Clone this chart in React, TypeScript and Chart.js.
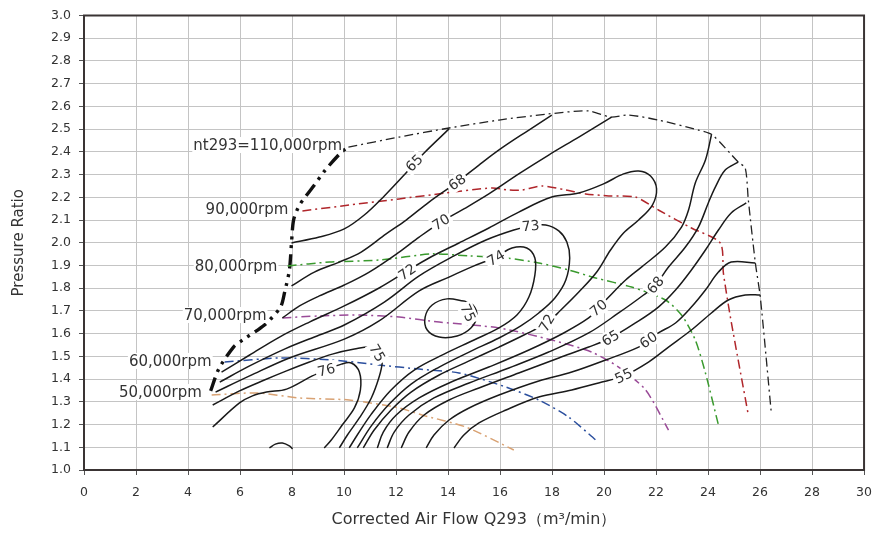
import { useEffect, useRef } from 'react';
import { Chart, registerables } from 'chart.js';

Chart.register(...registerables);

// ---- speed lines (corrected flow m3/min, pressure ratio) ----
const surgeLine = [[4.87,1.348],[5.18,1.444],[5.75,1.541],[6.10,1.572],[6.94,1.638],[7.56,1.717],[7.71,1.779],[7.90,1.880],[7.98,1.999],[8.06,2.100],[8.29,2.166],[8.86,2.254],[9.28,2.320],[9.90,2.399],[10.17,2.421]];
const rpm110k = [[10.17,2.421],[12.12,2.465],[14.04,2.505],[15.96,2.540],[17.87,2.567],[19.41,2.580],[20.25,2.553],[20.94,2.562],[22.09,2.540],[23.63,2.496],[24.17,2.474],[25.16,2.355],[25.43,2.329],[25.55,2.188],[25.82,1.911],[26.01,1.761],[26.43,1.255]];
const rpm90k = [[8.40,2.140],[10.20,2.166],[12.12,2.193],[13.92,2.219],[15.69,2.241],[16.34,2.232],[16.84,2.232],[17.61,2.250],[18.53,2.232],[19.29,2.215],[20.18,2.206],[21.21,2.201],[22.09,2.144],[23.36,2.065],[24.47,1.999],[24.59,1.867],[24.86,1.673],[25.55,1.242]];
const rpm80k = [[7.83,1.898],[9.44,1.915],[11.35,1.924],[13.39,1.951],[14.81,1.942],[16.23,1.933],[17.49,1.911],[18.64,1.880],[19.68,1.845],[21.06,1.805],[22.36,1.748],[22.98,1.682],[23.51,1.572],[23.90,1.427],[24.40,1.198]];
const rpm70k = [[7.63,1.669],[9.05,1.678],[10.59,1.682],[12.12,1.673],[13.66,1.651],[15.96,1.625],[17.99,1.572],[19.52,1.519],[20.56,1.453],[21.60,1.352],[22.48,1.176]];
const rpm60k = [[5.41,1.475],[7.52,1.493],[9.55,1.484],[11.35,1.462],[12.89,1.444],[14.42,1.427],[16.23,1.365],[17.49,1.308],[18.64,1.233],[19.68,1.132]];
const rpm50k = [[4.91,1.330],[6.64,1.339],[8.29,1.317],[10.20,1.308],[12.12,1.273],[13.00,1.242],[14.69,1.189],[16.53,1.088]];

// ---- efficiency contours ----
const eff65Upper = [[7.98,1.999],[9.05,2.025],[10.01,2.061],[10.78,2.122],[11.55,2.206],[12.31,2.298],[13.08,2.395],[14.04,2.501]];
const eff65Lower = [[25.47,2.175],[24.89,2.131],[24.40,2.056],[23.90,1.968],[23.36,1.880],[22.75,1.792],[22.09,1.717],[21.21,1.647],[20.25,1.581],[19.41,1.541],[18.26,1.493],[16.72,1.427],[15.19,1.361],[14.04,1.308],[13.08,1.242],[12.50,1.167],[12.20,1.097]];
const eff68Upper = [[7.98,1.810],[8.86,1.871],[9.82,1.915],[10.66,1.959],[11.62,2.039],[12.39,2.100],[13.27,2.179],[14.35,2.267],[15.19,2.342],[16.07,2.417],[17.11,2.496],[17.99,2.562]];
const eff68Lower = [[25.16,2.355],[24.66,2.320],[24.28,2.245],[24.01,2.175],[23.63,2.069],[23.13,1.981],[22.48,1.893],[21.98,1.814],[21.52,1.770],[20.56,1.691],[19.41,1.603],[17.87,1.519],[16.34,1.449],[14.81,1.383],[13.46,1.317],[12.50,1.242],[11.93,1.167],[11.66,1.097]];
const eff70Upper = [[7.63,1.669],[8.29,1.722],[9.05,1.766],[10.01,1.814],[10.97,1.871],[12.12,1.959],[12.89,2.025],[13.73,2.091],[14.61,2.149],[15.57,2.215],[16.72,2.303],[17.87,2.386],[19.03,2.465],[20.29,2.553]];
const eff70Lower = [[24.13,2.474],[23.90,2.364],[23.51,2.263],[23.25,2.144],[22.98,2.069],[22.36,1.981],[21.44,1.893],[20.83,1.836],[20.18,1.761],[19.79,1.713],[19.41,1.669],[18.45,1.603],[17.11,1.528],[15.57,1.453],[14.04,1.383],[12.89,1.317],[12.01,1.242],[11.51,1.167],[11.28,1.097]];
const eff72 = [[5.29,1.431],[6.37,1.506],[7.52,1.585],[8.67,1.651],[10.01,1.722],[11.35,1.801],[12.43,1.876],[13.27,1.933],[14.42,1.999],[15.57,2.065],[16.72,2.135],[17.99,2.201],[19.03,2.219],[19.98,2.259],[20.75,2.303],[21.33,2.316],[21.79,2.294],[22.02,2.237],[21.86,2.166],[21.33,2.100],[20.75,2.043],[20.25,1.968],[19.72,1.871],[19.03,1.783],[18.34,1.704],[17.80,1.647],[16.92,1.594],[15.96,1.541],[14.81,1.480],[13.66,1.418],[12.58,1.343],[11.81,1.264],[11.16,1.176],[10.74,1.097]];
const eff73 = [[5.22,1.387],[6.37,1.458],[7.71,1.532],[9.05,1.594],[10.01,1.638],[11.55,1.739],[12.89,1.854],[14.23,1.942],[15.46,2.012],[16.53,2.056],[17.18,2.074],[17.76,2.078],[18.26,2.052],[18.57,2.003],[18.68,1.933],[18.53,1.836],[18.11,1.757],[17.49,1.691],[16.80,1.634],[15.96,1.581],[14.81,1.519],[13.66,1.453],[12.58,1.378],[11.74,1.290],[11.05,1.194],[10.51,1.097]];
const eff74 = [[5.06,1.343],[6.37,1.414],[7.90,1.493],[10.01,1.576],[11.35,1.656],[12.89,1.788],[14.04,1.849],[15.00,1.898],[15.84,1.937],[16.46,1.977],[17.03,1.977],[17.34,1.933],[17.34,1.858],[17.11,1.761],[16.65,1.682],[15.96,1.625],[15.00,1.572],[13.85,1.510],[12.70,1.440],[11.81,1.352],[11.05,1.246],[10.51,1.154],[10.20,1.097]];
const eff75Island = [[14.61,1.744],[13.96,1.753],[13.39,1.726],[13.12,1.673],[13.20,1.616],[13.66,1.585],[14.35,1.590],[14.88,1.625],[15.11,1.678],[14.96,1.726],[14.61,1.744]];
const eff75 = [[4.95,1.286],[5.98,1.348],[6.94,1.396],[7.79,1.436],[8.67,1.475],[9.55,1.510],[10.40,1.532],[11.05,1.541],[11.39,1.519],[11.47,1.475],[11.35,1.409],[11.05,1.317],[10.59,1.229],[10.13,1.154],[9.82,1.097]];
const eff76 = [[4.95,1.189],[5.98,1.295],[6.48,1.326],[7.02,1.343],[7.79,1.356],[8.78,1.414],[9.32,1.440],[9.90,1.466],[10.28,1.471],[10.59,1.431],[10.63,1.352],[10.40,1.273],[9.93,1.198],[9.51,1.132],[9.24,1.097]];
const eff77 = [[7.13,1.097],[7.36,1.114],[7.63,1.119],[7.90,1.106],[8.02,1.093]];
const eff60 = [[25.82,1.911],[24.89,1.915],[24.40,1.871],[23.90,1.792],[23.36,1.717],[22.75,1.647],[22.09,1.603],[21.71,1.572],[21.33,1.541],[20.06,1.484],[18.76,1.431],[17.49,1.392],[15.96,1.330],[14.81,1.273],[14.04,1.220],[13.46,1.154],[13.16,1.097]];
const eff55 = [[26.01,1.770],[25.43,1.770],[24.78,1.748],[24.13,1.691],[23.36,1.616],[22.48,1.541],[21.71,1.475],[20.75,1.414],[19.79,1.383],[18.76,1.352],[17.49,1.321],[16.23,1.264],[15.19,1.207],[14.61,1.154],[14.23,1.097]];

// ---- labels ----
const contourLabelText = ['65','68','70','72','73','74','75','75','76','72','70','68','65','60','55'];
const contourLabelAt = [[12.70,2.351],[14.35,2.267],[13.73,2.091],[12.43,1.871],[17.18,2.074],[15.84,1.933],[14.77,1.691],[11.28,1.515],[9.32,1.440],[17.80,1.647],[19.79,1.713],[21.98,1.814],[20.25,1.581],[21.71,1.572],[20.75,1.414]];
const contourLabelAngle = [-45,-35,-32,-35,-5,-30,65,60,-15,-60,-40,-50,-32,-35,-25];
const speedLabelText = ['nt293=110,000rpm','90,000rpm','80,000rpm','70,000rpm','60,000rpm','50,000rpm'];
const speedLabelAt = [[9.93,2.430],[7.86,2.148],[7.44,1.898],[7.02,1.682],[4.91,1.480],[4.53,1.343]];

const FONT = '"DejaVu Sans", Verdana, sans-serif';

export default function App() {
  const ref = useRef<HTMLCanvasElement>(null);

  useEffect(() => {
    if (!ref.current) return;
    const pts = (a: number[][]) => a.map(([x, y]) => ({ x, y }));
    const eff = (a: number[][]) => ({
      data: pts(a), borderColor: '#1a1a1a', borderWidth: 1.5, pointRadius: 0,
      tension: 0.35, fill: false,
    });
    const speed = (a: number[][], color: string, width: number, dash: number[]) => ({
      data: pts(a), borderColor: color, borderWidth: width, borderDash: dash, pointRadius: 0,
      tension: 0.25, fill: false,
    });

    const labelPlugin = {
      id: 'mapLabels',
      afterDatasetsDraw(chart: any) {
        const { ctx, scales } = chart;
        const sx = scales.x, sy = scales.y;
        ctx.save();
        ctx.font = `14px ${FONT}`;
        ctx.textBaseline = 'middle';
        ctx.textAlign = 'center';
        contourLabelText.forEach((t, i) => {
          const px = sx.getPixelForValue(contourLabelAt[i][0]);
          const py = sy.getPixelForValue(contourLabelAt[i][1]);
          ctx.save();
          ctx.translate(px, py);
          ctx.rotate((contourLabelAngle[i] * Math.PI) / 180);
          const w = ctx.measureText(t).width;
          ctx.fillStyle = '#ffffff';
          ctx.fillRect(-w / 2 - 2, -8, w + 4, 16);
          ctx.fillStyle = '#333333';
          ctx.fillText(t, 0, 1);
          ctx.restore();
        });
        ctx.font = `15px ${FONT}`;
        ctx.textAlign = 'right';
        speedLabelText.forEach((t, i) => {
          const px = sx.getPixelForValue(speedLabelAt[i][0]);
          const py = sy.getPixelForValue(speedLabelAt[i][1]);
          const w = ctx.measureText(t).width;
          ctx.fillStyle = '#ffffff';
          ctx.fillRect(px - w - 1, py - 8, w + 2, 16);
          ctx.fillStyle = '#333333';
          ctx.fillText(t, px, py + 1);
        });
        ctx.restore();
      },
      afterDraw(chart: any) {
        const { ctx, chartArea: a } = chart;
        ctx.save();
        ctx.strokeStyle = '#3a3434';
        ctx.lineWidth = 2;
        ctx.strokeRect(a.left, a.top, a.right - a.left, a.bottom - a.top);
        ctx.restore();
      },
    };

    const chart = new Chart(ref.current, {
      type: 'line',
      data: {
        datasets: [
          eff(eff65Upper), eff(eff65Lower), eff(eff68Upper), eff(eff68Lower),
          eff(eff70Upper), eff(eff70Lower), eff(eff72), eff(eff73), eff(eff74),
          eff(eff75Island), eff(eff75), eff(eff76), eff(eff77), eff(eff60), eff(eff55),
          speed(rpm50k, '#d9a273', 1.5, [9, 4, 2, 4]),
          speed(rpm60k, '#2b4f9e', 1.5, [9, 4, 2, 4]),
          speed(rpm70k, '#9a4b98', 1.5, [9, 4, 2, 4]),
          speed(rpm80k, '#3a9a2e', 1.5, [9, 4, 2, 4]),
          speed(rpm90k, '#b0262b', 1.5, [9, 4, 2, 4]),
          speed(rpm110k, '#222222', 1.3, [9, 4, 2, 4]),
          speed(surgeLine, '#111111', 3.4, [14, 6, 3, 6, 3, 6]),
        ] as any,
      },
      options: {
        responsive: false,
        animation: false,
        events: [],
        layout: { padding: { left: 0, top: 15, right: 16, bottom: 0 } },
        plugins: { legend: { display: false }, tooltip: { enabled: false } },
        scales: {
          x: {
            type: 'linear', min: 0, max: 30,
            afterFit: (s: any) => { s.height = 64; },
            border: { display: false },
            grid: { color: '#c4c4c4', lineWidth: 1, drawTicks: true, tickLength: 5, tickColor: '#555' },
            ticks: { stepSize: 2, autoSkip: false, maxRotation: 0, padding: 10, color: '#333', font: { family: FONT, size: 12.5 } },
            title: { display: true, text: 'Corrected Air Flow Q293（m³/min）', color: '#333', font: { family: FONT, size: 16 }, padding: { top: 0, bottom: 5 } },
          },
          y: {
            type: 'linear', min: 1, max: 3,
            afterFit: (s: any) => { s.width = 84; },
            border: { display: false },
            grid: { color: '#c4c4c4', lineWidth: 1, drawTicks: true, tickLength: 5, tickColor: '#555' },
            ticks: { stepSize: 0.1, autoSkip: false, padding: 8, color: '#333', font: { family: FONT, size: 12.5 },
              callback: (v: any) => Number(v).toFixed(1) },
            title: { display: true, text: 'Pressure Ratio', color: '#333', font: { family: FONT, size: 15 }, padding: { top: 10, bottom: 0 } },
          },
        },
      } as any,
      plugins: [labelPlugin],
    });
    return () => chart.destroy();
  }, []);

  return (
    <div style={{ position: 'fixed', left: 0, top: 0, width: 882, height: 534, background: '#fff' }}>
      <canvas ref={ref} width={882} height={534} style={{ width: 882, height: 534, display: 'block' }} />
    </div>
  );
}
